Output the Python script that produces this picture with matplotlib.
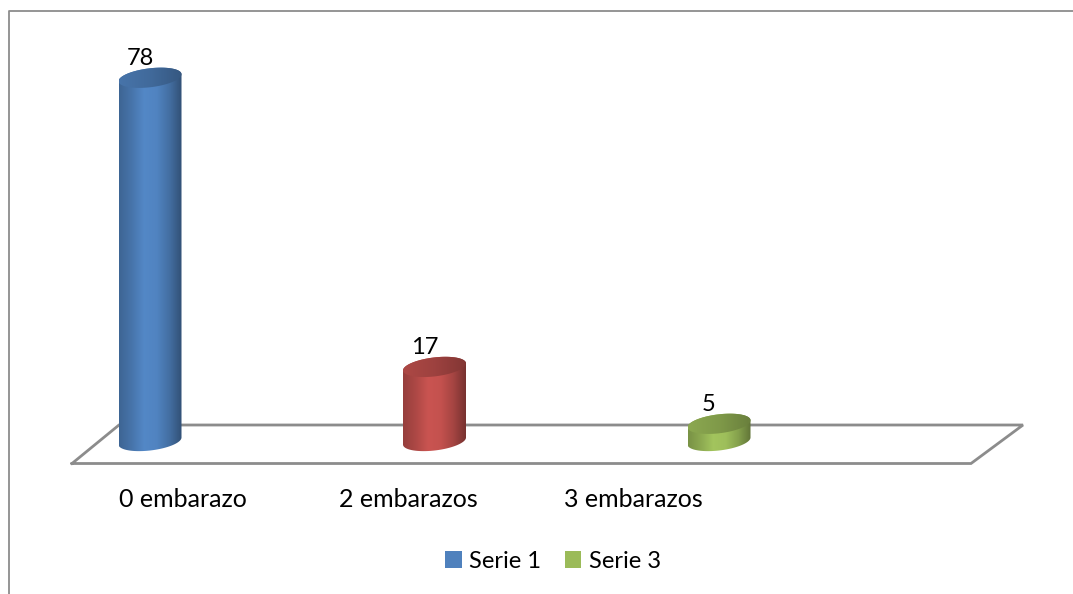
import numpy as np
import matplotlib
matplotlib.use('Agg')
import matplotlib.pyplot as plt
from matplotlib.path import Path
from matplotlib.patches import PathPatch, Patch
from matplotlib.colors import LinearSegmentedColormap
from matplotlib.transforms import Affine2D

plt.rcParams['font.family'] = ['Lato', 'DejaVu Sans']

categories = ['0 embarazo', '2 embarazos', '3 embarazos']
values = [78, 17, 5]
colors = ['#4F81BD', '#C0504D', '#9BBB59']
legend_names = ['Serie 1', 'Serie 3']
legend_colors = ['#4F81BD', '#9BBB59']

W, H = 1073, 594
GRAY = '#8C8C8C'

fig = plt.figure(figsize=(W / 100, H / 100), dpi=100)
ax = fig.add_axes([0, 0, 1, 1])

# scale: 284.5 px per category, 4.74 px per unit
xpx = 284.5
ypx = 4.74
x0 = 150
y0 = 447.5
xlim = (-x0 / xpx, (W - x0) / xpx)
ylim = ((y0 - H) / ypx, y0 / ypx)
base = 1.37  # cylinders stand on the floor, a bit above 0

# pixel coordinates for frame, floor and labels
px = Affine2D().scale(1 / W, -1 / H).translate(0, 1) + ax.transAxes

# frame
ax.plot([1073, 9, 9], [11, 11, 594], color=GRAY, lw=1.3, transform=px)

# floor
floor = [(72, 463.5), (119, 425), (1023, 425), (971, 463.5), (72, 463.5)]
ax.plot([p[0] for p in floor], [p[1] for p in floor], color=GRAY, lw=2,
        transform=px, solid_joinstyle='miter', zorder=1)


def shade(col, f):
    rgb = np.array(matplotlib.colors.to_rgb(col))
    return tuple(np.clip(rgb * f, 0, 1))


rx = 31.5 / xpx
ry = 9.5 / ypx
tilt = 3.5 / ypx / rx
t = np.linspace(0, 2 * np.pi, 121)


def ell(cx, cy, tt):
    return cx + rx * np.cos(tt), cy + ry * np.sin(tt) + tilt * rx * np.cos(tt)


def gradient(path, cm, extent, z):
    g = np.linspace(0, 1, 256).reshape(1, -1)
    im = ax.imshow(g, cmap=cm, extent=extent, aspect='auto', zorder=z, origin='lower',
                   interpolation='bilinear')
    im.set_clip_path(PathPatch(path, transform=ax.transData))


for i, (v, c) in enumerate(zip(values, colors)):
    # body: back half of the top ellipse, down, front half of the bottom one
    xt, yt = ell(i, v, np.linspace(np.pi, 0, 60))
    xb, yb = ell(i, base, np.linspace(2 * np.pi, np.pi, 60))
    body = Path(np.column_stack([np.r_[xt, xb], np.r_[yt, yb]]))
    body_cm = LinearSegmentedColormap.from_list('b', [shade(c, 0.78), shade(c, 0.9), shade(c, 1.05),
                                                      shade(c, 1.02), shade(c, 0.86), shade(c, 0.62)])
    gradient(body, body_cm, (i - rx, i + rx, base - 5, v + 5), 3)
    # top of the cylinder
    xe, ye = ell(i, v, t)
    top = Path(np.column_stack([xe, ye]))
    top_cm = LinearSegmentedColormap.from_list('t', [shade(c, 0.9), shade(c, 0.82), shade(c, 0.68)])
    gradient(top, top_cm, (i - rx, i + rx, v - 5, v + 5), 4)
    ax.annotate(str(v), (i, v), xytext=(-7.2, 14), textcoords='offset points', ha='center',
                va='center', fontsize=17, color='black', zorder=5)

# category labels sit left of the cylinders
label_x = [183, 408, 633]
for name, lx in zip(categories, label_x):
    ax.text(lx, 499.5, name, transform=px, ha='center', va='center', fontsize=18, color='black')

handles = [Patch(facecolor=c, label=n) for n, c in zip(legend_names, legend_colors)]
ax.legend(handles=handles, ncol=2, frameon=False, fontsize=17, loc='center',
          bbox_to_anchor=(553 / W, 1 - 561.5 / H), handlelength=0.7, handleheight=0.7,
          handletextpad=0.32, columnspacing=1.0, borderpad=0, borderaxespad=0)

ax.set_xlim(xlim)
ax.set_ylim(ylim)
ax.axis('off')
fig.savefig('out.png', dpi=100)
